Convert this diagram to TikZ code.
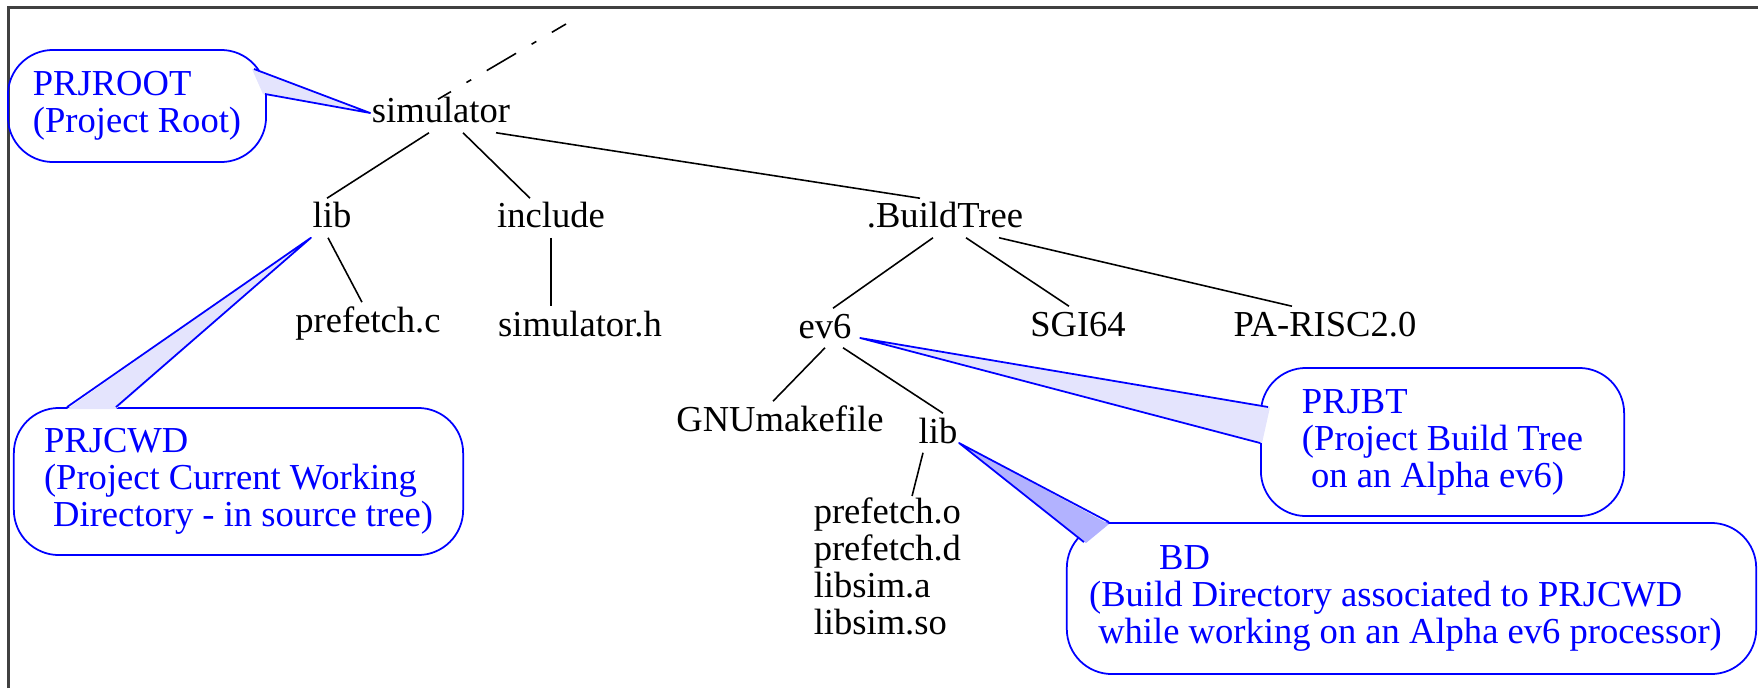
\documentclass[tikz,border=0pt]{standalone}
\usepackage{fontspec}
\setmainfont{Liberation Serif}
\usepackage{tikz}
\definecolor{callblue}{RGB}{0,0,255}
\definecolor{tailpale}{RGB}{228,228,253}
\definecolor{taildark}{RGB}{178,178,255}
\tikzstyle{fnode} = [inner sep=0.3pt, text height=0.28cm, text depth=0.08cm, anchor=base]
\tikzstyle{cbox} = [draw=callblue, text=callblue, rounded corners=0.45cm, align=left, inner sep=0pt, line width=0.5pt]
\tikzstyle{tline} = [draw, line width=0.45pt]
\tikzstyle{tailedge} = [draw=callblue, line width=0.5pt, line join=round]

\begin{document}
\begin{tikzpicture}[x=0.01cm, y=-0.01cm, every node/.style={font=\fontsize{10.4}{10.53}\selectfont}]
	\useasboundingbox (0,0) rectangle (1758,688);
	\draw[black!75, line width=0.7pt] (8.5,688) -- (8.5,7.5) -- (1758,7.5);

	% directory tree
	\node [fnode] (sim) at (441,123) {simulator};
	\node [fnode] (lib) at (332,228) {lib};
	\node [fnode] (incl) at (551,228) {include};
	\node [fnode] (bt) at (945,228) {.BuildTree};
	\node [fnode] (pfc) at (368,332) {prefetch.c};
	\node [fnode] (simh) at (580,336) {simulator.h};
	\node [fnode] (ev6) at (825,338) {ev6};
	\node [fnode] (sgi) at (1078,336) {SGI64};
	\node [fnode] (pa) at (1325,336) {PA-RISC2.0};
	\node [fnode] (gnu) at (780,431) {GNUmakefile};
	\node [fnode] (blib) at (938,443) {lib};
	\node [align=left, anchor=north west, inner sep=0.3pt] (objs) at (812,496) {prefetch.o\\prefetch.d\\libsim.a\\libsim.so};
	\coordinate (up) at (566,24);

	\path [tline] ([xshift=-0.12cm]sim.south) -- ([xshift=-0.05cm]lib.north);
	\path [tline] ([xshift=0.22cm]sim.south) -- ([xshift=-0.21cm]incl.north);
	\path [tline] ([xshift=0.55cm]sim.south) -- ([xshift=-0.25cm]bt.north);
	\path [tline] ([xshift=-0.04cm]lib.south) -- ([xshift=-0.06cm]pfc.north);
	\path [tline] (incl.south) -- (incl.south |- simh.north);
	\path [tline] ([xshift=-0.12cm]bt.south) -- ([xshift=0.08cm]ev6.north);
	\path [tline] ([xshift=0.21cm]bt.south) -- ([xshift=-0.09cm]sgi.north);
	\path [tline] ([xshift=0.54cm]bt.south) -- ([xshift=-0.33cm]pa.north);
	\path [tline] (ev6.south) -- ([xshift=-0.07cm]gnu.north);
	\path [tline] ([xshift=0.18cm]ev6.south) -- ([xshift=0.05cm]blib.north);
	\path [tline] ([xshift=-0.15cm]blib.south) -- ([xshift=1cm]objs.north west);
	\path [tline, dash pattern=on 0.34cm off 0.18cm on 0.055cm off 0.18cm, dash phase=0.19cm] ([shift={(-3,6)}]sim.north) -- (up);

	% callouts
	\node [cbox, minimum width=2.58cm, minimum height=1.12cm] (rootbox) at (137,106) {PRJROOT\\(Project Root)};
	\node [cbox, minimum width=4.49cm, minimum height=1.47cm] (cwdbox) at (238.5,481.5) {PRJCWD\\(Project Current Working\\\ Directory - in source tree)};
	\node [cbox, minimum width=3.63cm, minimum height=1.48cm] (btbox) at (1442.5,442) {PRJBT\\(Project Build Tree\hspace*{0.18cm}\\\ on an Alpha ev6)};
	\node [cbox, minimum width=6.89cm, minimum height=1.51cm] (bdbox) at (1411.5,598.5) {\hspace*{0.7cm}BD\\(Build Directory associated to PRJCWD\\\ while working on an Alpha ev6 processor)\hspace*{0.12cm}};

	\fill [tailpale] ([shift={(-15,-37)}]rootbox.east) -- (sim.west) -- ([shift={(-4,-12)}]rootbox.east) -- cycle;
	\path [tailedge] ([shift={(-13,-37)}]rootbox.east) -- (sim.west) -- ([shift={(-2,-12)}]rootbox.east);
	\fill [tailpale] ([shift={(54,2)}]cwdbox.north west) -- (lib.south west) -- ([shift={(103,2)}]cwdbox.north west) -- cycle;
	\path [tailedge] ([shift={(54,0)}]cwdbox.north west) -- (lib.south west) -- ([shift={(103,0)}]cwdbox.north west);
	\fill [tailpale] ([shift={(10,-35)}]btbox.west) -- ([xshift=0.07cm]ev6.base east) -- ([shift={(2,1)}]btbox.west) -- cycle;
	\path [tailedge] ([shift={(8,-35)}]btbox.west) -- ([xshift=0.07cm]ev6.base east) -- ([shift={(0,1)}]btbox.west);
	\fill [taildark] ([shift={(43,2)}]bdbox.north west) -- (blib.base east) -- ([shift={(20,21)}]bdbox.north west) -- cycle;
	\path [tailedge] ([shift={(43,0)}]bdbox.north west) -- (blib.base east) -- ([shift={(18,20)}]bdbox.north west);
\end{tikzpicture}
\end{document}
